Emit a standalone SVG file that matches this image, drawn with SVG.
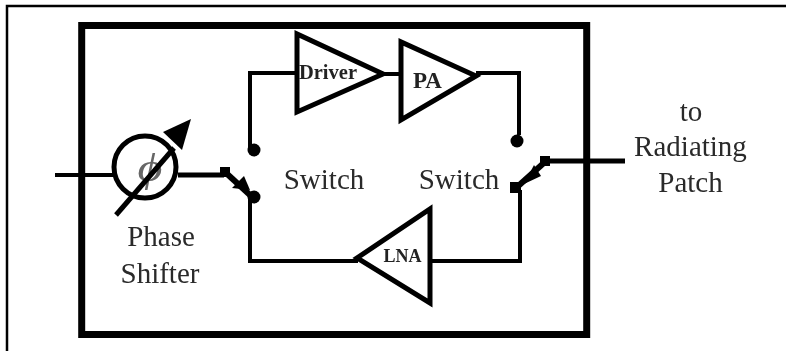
<svg xmlns="http://www.w3.org/2000/svg" width="786" height="351" viewBox="0 0 786 351">
<style>
.l{fill:none;stroke:#000;stroke-width:4}
.n{fill:none;stroke:#000;stroke-width:5}
.t{font-family:"Liberation Serif",serif;fill:#2a2a2a;font-size:29px;text-anchor:middle;filter:url(#soft)}
.b{font-family:"Liberation Serif",serif;fill:#222;font-weight:bold;text-anchor:middle;filter:url(#soft)}
</style>
<defs><filter id="soft" x="-10%" y="-10%" width="120%" height="120%"><feGaussianBlur stdDeviation="0.5"/></filter></defs>
<rect width="786" height="351" fill="#fff"/>
<path d="M7 351V6H786" fill="none" stroke="#000" stroke-width="2.500"/>
<rect id="module" x="81.700" y="25.500" width="505" height="309" fill="none" stroke="#000" stroke-width="7"/>
<g id="connectors">
<path class="l" d="M55 175H113"/>
<path class="n" d="M178 175H224"/>
<path class="l" d="M297 73H250V148"/>
<path class="l" d="M383 74H402"/>
<path class="l" d="M476 73H519V135"/>
<path class="l" d="M250 198V261H358"/>
<path class="l" d="M430 261H520V190"/>
<path class="n" d="M625 161H546"/>
</g>
<g id="phase-shifter">
<circle cx="145" cy="167" r="31" fill="none" stroke="#000" stroke-width="5"/>
<text class="t" x="150" y="181" style="font-size:40px;font-style:italic;fill:#666" transform="translate(150 0) scale(1.200 1) translate(-150 0)">ϕ</text>
<path class="n" d="M116 215L174 148"/>
<path d="M191 119L163 132L182 150Z"/>
<text class="t" x="161" y="246">Phase</text>
<text class="t" x="160" y="283">Shifter</text>
</g>
<g id="switch-left">
<circle cx="254" cy="150" r="6.500"/><circle cx="254" cy="197" r="6.500"/>
<rect x="220" y="167" width="10" height="10"/>
<path d="M225 172L250 195" fill="none" stroke="#000" stroke-width="6"/>
<path d="M232 188L244 176L250 190Z"/>
<text class="t" x="324" y="189">Switch</text>
</g>
<g id="switch-right">
<circle cx="517" cy="141" r="6.500"/>
<rect x="510" y="182" width="11" height="11"/>
<path d="M546 161L516 188" fill="none" stroke="#000" stroke-width="6"/>
<path d="M524 184L534 165L541 176Z"/>
<rect x="540" y="156" width="10" height="10"/>
<text class="t" x="459" y="189">Switch</text>
</g>
<g id="driver">
<path class="n" d="M297 34V112L383 74Z"/>
<text class="b" x="328" y="79" style="font-size:20.500px">Driver</text>
</g>
<g id="pa">
<path class="n" d="M401 42V120L476 76Z"/>
<text class="b" x="427.500" y="88" style="font-size:23px">PA</text>
</g>
<g id="lna">
<path class="n" d="M430 209V303L357 258Z"/>
<text class="b" x="402.500" y="262" style="font-size:18px">LNA</text>
</g>
<g id="patch-label">
<text class="t" x="691" y="121">to</text>
<text class="t" x="690.500" y="156">Radiating</text>
<text class="t" x="690.500" y="192">Patch</text>
</g>
</svg>
